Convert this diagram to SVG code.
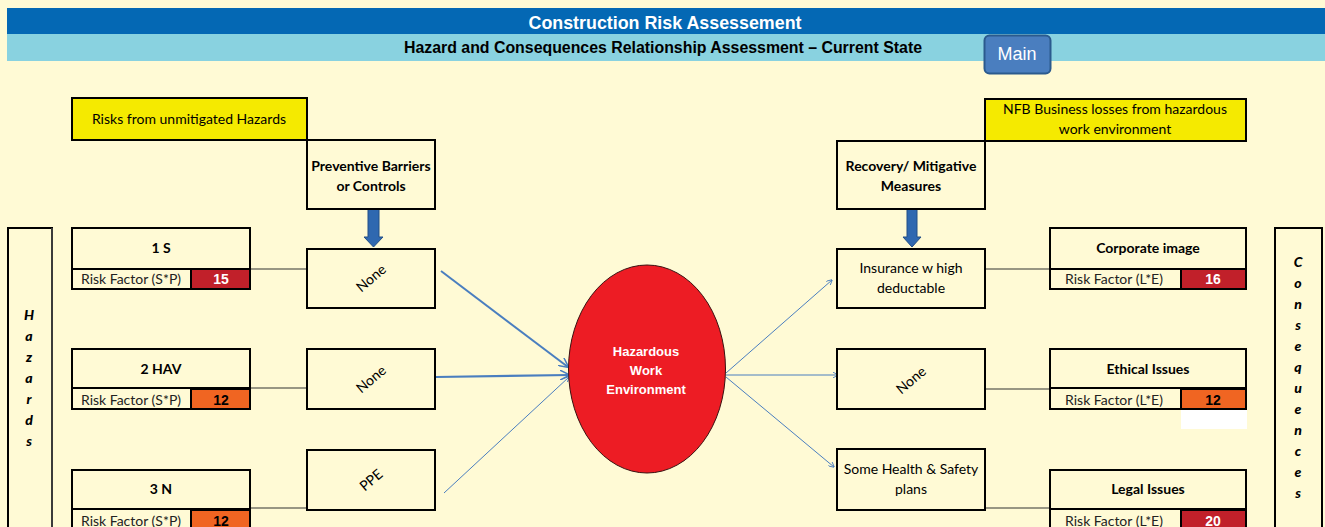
<svg xmlns="http://www.w3.org/2000/svg" width="1325" height="527" viewBox="0 0 1325 527">
<defs>
<style>
.box{fill:#FFFAD5;stroke:#000;stroke-width:2}
.ybox{fill:#F5EA00;stroke:#000;stroke-width:2}
.lbl{font-family:Lato,"Noto Sans",sans-serif;font-size:14px;fill:#000;text-anchor:middle}
.b{font-weight:bold}
.rf{font-family:Lato,"Noto Sans",sans-serif;font-size:14px;fill:#222;text-anchor:middle}
.val{font-family:"Liberation Sans",Arial,sans-serif;font-size:14px;font-weight:bold;text-anchor:middle}
.vert{font-family:Lato,"Noto Sans",sans-serif;font-size:14px;font-weight:900;font-style:italic;fill:#000;text-anchor:middle}
.conn{stroke:#333;stroke-width:1.2;fill:none}
.arr{stroke:#4A7EBF;fill:none}
.blk{fill:#2F68B0;stroke:#234F86;stroke-width:1}
</style>
<marker id="ah" viewBox="0 0 10 10" refX="9" refY="5" markerWidth="6" markerHeight="6" orient="auto" markerUnits="userSpaceOnUse">
<path d="M0,0 L10,5 L0,10" fill="none" stroke="#4A7EBF" stroke-width="1.5"/>
</marker>
<marker id="ah2" viewBox="0 0 10 10" refX="9" refY="5" markerWidth="10" markerHeight="10" orient="auto" markerUnits="userSpaceOnUse">
<path d="M0,0 L10,5 L0,10" fill="none" stroke="#4A7EBF" stroke-width="1.5"/>
</marker>
</defs>
<rect x="0" y="0" width="1325" height="527" fill="#FFFAD5"/>
<g id="header">
<rect x="7" y="8" width="1318" height="26" fill="#0468B4"/>
<rect x="7" y="34" width="1318" height="27" fill="#89D2E0"/>
<text x="665" y="29" font-family="'Liberation Sans Narrow','Liberation Sans',Arial,sans-serif" font-size="18" font-weight="bold" fill="#fff" text-anchor="middle" textLength="273" lengthAdjust="spacingAndGlyphs">Construction Risk Assessement</text>
<text x="663" y="53" font-family="'Liberation Sans Narrow','Liberation Sans',Arial,sans-serif" font-size="16" font-weight="bold" fill="#000" text-anchor="middle" textLength="518" lengthAdjust="spacingAndGlyphs">Hazard and Consequences Relationship Assessment – Current State</text>
</g>
<g id="main-button">
<rect x="984.5" y="35.5" width="66" height="38" rx="5" fill="#4A7EBF" stroke="#2B5A8E" stroke-width="2"/>
<text x="1017" y="60" font-family="'Liberation Sans Narrow','Liberation Sans',Arial,sans-serif" font-size="18" fill="#fff" text-anchor="middle" textLength="39" lengthAdjust="spacingAndGlyphs">Main</text>
</g>
<g id="connectors">
<line class="conn" x1="250" y1="269" x2="307" y2="269"/>
<line class="conn" x1="250" y1="388" x2="307" y2="388"/>
<line class="conn" x1="250" y1="508" x2="307" y2="508"/>
<line class="conn" x1="985" y1="269" x2="1050" y2="269"/>
<line class="conn" x1="985" y1="389" x2="1050" y2="389"/>
<line class="conn" x1="985" y1="508" x2="1050" y2="508"/>
<line class="arr" x1="441" y1="271" x2="568" y2="367" stroke-width="2" marker-end="url(#ah2)"/>
<line class="arr" x1="436" y1="377" x2="569" y2="375" stroke-width="2.2" marker-end="url(#ah2)"/>
<line class="arr" x1="444" y1="493" x2="569" y2="377" stroke-width="1" marker-end="url(#ah)"/>
<line class="arr" x1="726" y1="373" x2="832" y2="280" stroke-width="1" marker-end="url(#ah)"/>
<line class="arr" x1="726" y1="375" x2="838" y2="375" stroke-width="1" marker-end="url(#ah)"/>
<line class="arr" x1="726" y1="377" x2="834" y2="467" stroke-width="1" marker-end="url(#ah)"/>
<path class="blk" d="M368,209 L379,209 L379,237 L383,237 L373.5,247 L364,237 L368,237 Z"/>
<path class="blk" d="M907,209 L917,209 L917,237 L921,237 L912,247 L903,237 L907,237 Z"/>
</g>
<g id="risks-header">
<rect class="ybox" x="72" y="98" width="235" height="42"/>
<text class="lbl" x="189" y="124">Risks from unmitigated Hazards</text>
</g>
<g id="preventive-header">
<rect class="box" x="307" y="140" width="128" height="69"/>
<text class="lbl b" x="371" y="171">Preventive Barriers</text>
<text class="lbl b" x="371" y="191">or Controls</text>
</g>
<g id="hazards-label">
<rect x="8" y="228" width="44" height="310" fill="#FFFAD5" stroke="#000" stroke-width="2"/>
<line x1="52" y1="228" x2="52" y2="527" stroke="#777" stroke-width="1"/>
<text class="vert" x="29" y="320">H</text>
<text class="vert" x="29" y="341">a</text>
<text class="vert" x="29" y="362">z</text>
<text class="vert" x="29" y="383">a</text>
<text class="vert" x="29" y="404">r</text>
<text class="vert" x="29" y="425">d</text>
<text class="vert" x="29" y="446">s</text>
</g>
<g id="hazard-1">
<rect class="box" x="72" y="228" width="178" height="61"/>
<line x1="72" y1="269" x2="250" y2="269" stroke="#000" stroke-width="2"/>
<rect x="191" y="269" width="59" height="20" fill="#C1202A" stroke="#000" stroke-width="2"/>
<text class="lbl b" x="161" y="253">1 S</text>
<text class="rf" x="131" y="284">Risk Factor (S*P)</text>
<text class="val" x="221" y="284" fill="#fff">15</text>
</g>
<g id="hazard-2">
<rect class="box" x="72" y="349" width="178" height="60"/>
<line x1="72" y1="388" x2="250" y2="388" stroke="#000" stroke-width="2"/>
<rect x="191" y="389" width="59" height="20" fill="#F06522" stroke="#000" stroke-width="2"/>
<text class="lbl b" x="161" y="374">2 HAV</text>
<text class="rf" x="131" y="405">Risk Factor (S*P)</text>
<text class="val" x="221" y="405" fill="#000">12</text>
</g>
<g id="hazard-3">
<rect class="box" x="72" y="470" width="178" height="62"/>
<line x1="72" y1="509" x2="250" y2="509" stroke="#000" stroke-width="2"/>
<rect x="191" y="510" width="59" height="22" fill="#F06522" stroke="#000" stroke-width="2"/>
<text class="lbl b" x="161" y="494">3 N</text>
<text class="rf" x="131" y="526">Risk Factor (S*P)</text>
<text class="val" x="221" y="526" fill="#000">12</text>
</g>
<g id="barrier-1">
<rect class="box" x="307" y="249" width="128" height="59"/>
<text class="lbl" x="371" y="283" transform="rotate(-40 371 278)">None</text>
</g>
<g id="barrier-2">
<rect class="box" x="307" y="349" width="128" height="60"/>
<text class="lbl" x="371" y="384" transform="rotate(-40 371 379)">None</text>
</g>
<g id="barrier-3">
<rect class="box" x="307" y="450" width="128" height="60"/>
<text class="lbl" x="371" y="485" transform="rotate(-40 371 480)">PPE</text>
</g>
<g id="hazardous-work-environment">
<ellipse cx="647" cy="369" rx="78.5" ry="104" fill="#ED1C24" stroke="#3a1010" stroke-width="1"/>
<text x="646" y="356" font-family="'Liberation Sans',Arial,sans-serif" font-size="13" font-weight="bold" fill="#fff" text-anchor="middle">Hazardous</text>
<text x="646" y="375" font-family="'Liberation Sans',Arial,sans-serif" font-size="13" font-weight="bold" fill="#fff" text-anchor="middle">Work</text>
<text x="646" y="394" font-family="'Liberation Sans',Arial,sans-serif" font-size="13" font-weight="bold" fill="#fff" text-anchor="middle">Environment</text>
</g>
<g id="losses-header">
<rect class="ybox" x="985" y="99" width="261" height="42"/>
<text class="lbl" x="1115" y="114">NFB Business losses from hazardous</text>
<text class="lbl" x="1115" y="134">work environment</text>
</g>
<g id="recovery-header">
<rect class="box" x="837" y="141" width="148" height="68"/>
<text class="lbl b" x="911" y="171">Recovery/ Mitigative</text>
<text class="lbl b" x="911" y="191">Measures</text>
</g>
<g id="measure-1">
<rect class="box" x="837" y="249" width="148" height="59"/>
<text class="lbl" x="911" y="273">Insurance w high</text>
<text class="lbl" x="911" y="293">deductable</text>
</g>
<g id="measure-2">
<rect class="box" x="837" y="349" width="148" height="60"/>
<text class="lbl" x="911" y="385" transform="rotate(-40 911 380)">None</text>
</g>
<g id="measure-3">
<rect class="box" x="837" y="449" width="148" height="61"/>
<text class="lbl" x="911" y="474">Some Health &amp; Safety</text>
<text class="lbl" x="911" y="494">plans</text>
</g>
<g id="consequence-1">
<rect class="box" x="1050" y="228" width="196" height="61"/>
<line x1="1050" y1="269" x2="1246" y2="269" stroke="#000" stroke-width="2"/>
<rect x="1181" y="269" width="65" height="20" fill="#C1202A" stroke="#000" stroke-width="2"/>
<text class="lbl b" x="1148" y="253">Corporate image</text>
<text class="rf" x="1114" y="284">Risk Factor (L*E)</text>
<text class="val" x="1213" y="284" fill="#fff">16</text>
</g>
<g id="consequence-2">
<rect class="box" x="1050" y="349" width="196" height="60"/>
<line x1="1050" y1="388" x2="1246" y2="388" stroke="#000" stroke-width="2"/>
<rect x="1181" y="389" width="65" height="20" fill="#F06522" stroke="#000" stroke-width="2"/>
<rect x="1181" y="410" width="66" height="19" fill="#fff"/>
<text class="lbl b" x="1148" y="374">Ethical Issues</text>
<text class="rf" x="1114" y="405">Risk Factor (L*E)</text>
<text class="val" x="1213" y="405" fill="#000">12</text>
</g>
<g id="consequence-3">
<rect class="box" x="1050" y="470" width="196" height="62"/>
<line x1="1050" y1="509" x2="1246" y2="509" stroke="#000" stroke-width="2"/>
<rect x="1181" y="510" width="65" height="22" fill="#C1202A" stroke="#000" stroke-width="2"/>
<text class="lbl b" x="1148" y="494">Legal Issues</text>
<text class="rf" x="1114" y="526">Risk Factor (L*E)</text>
<text class="val" x="1213" y="526" fill="#fff">20</text>
</g>
<g id="consequences-label">
<rect x="1275" y="228" width="47" height="310" fill="#FFFAD5" stroke="#000" stroke-width="2"/>
<text class="vert" x="1298" y="267">C</text>
<text class="vert" x="1298" y="288">o</text>
<text class="vert" x="1298" y="309">n</text>
<text class="vert" x="1298" y="330">s</text>
<text class="vert" x="1298" y="351">e</text>
<text class="vert" x="1298" y="372">q</text>
<text class="vert" x="1298" y="393">u</text>
<text class="vert" x="1298" y="414">e</text>
<text class="vert" x="1298" y="435">n</text>
<text class="vert" x="1298" y="456">c</text>
<text class="vert" x="1298" y="477">e</text>
<text class="vert" x="1298" y="498">s</text>
</g>
</svg>
